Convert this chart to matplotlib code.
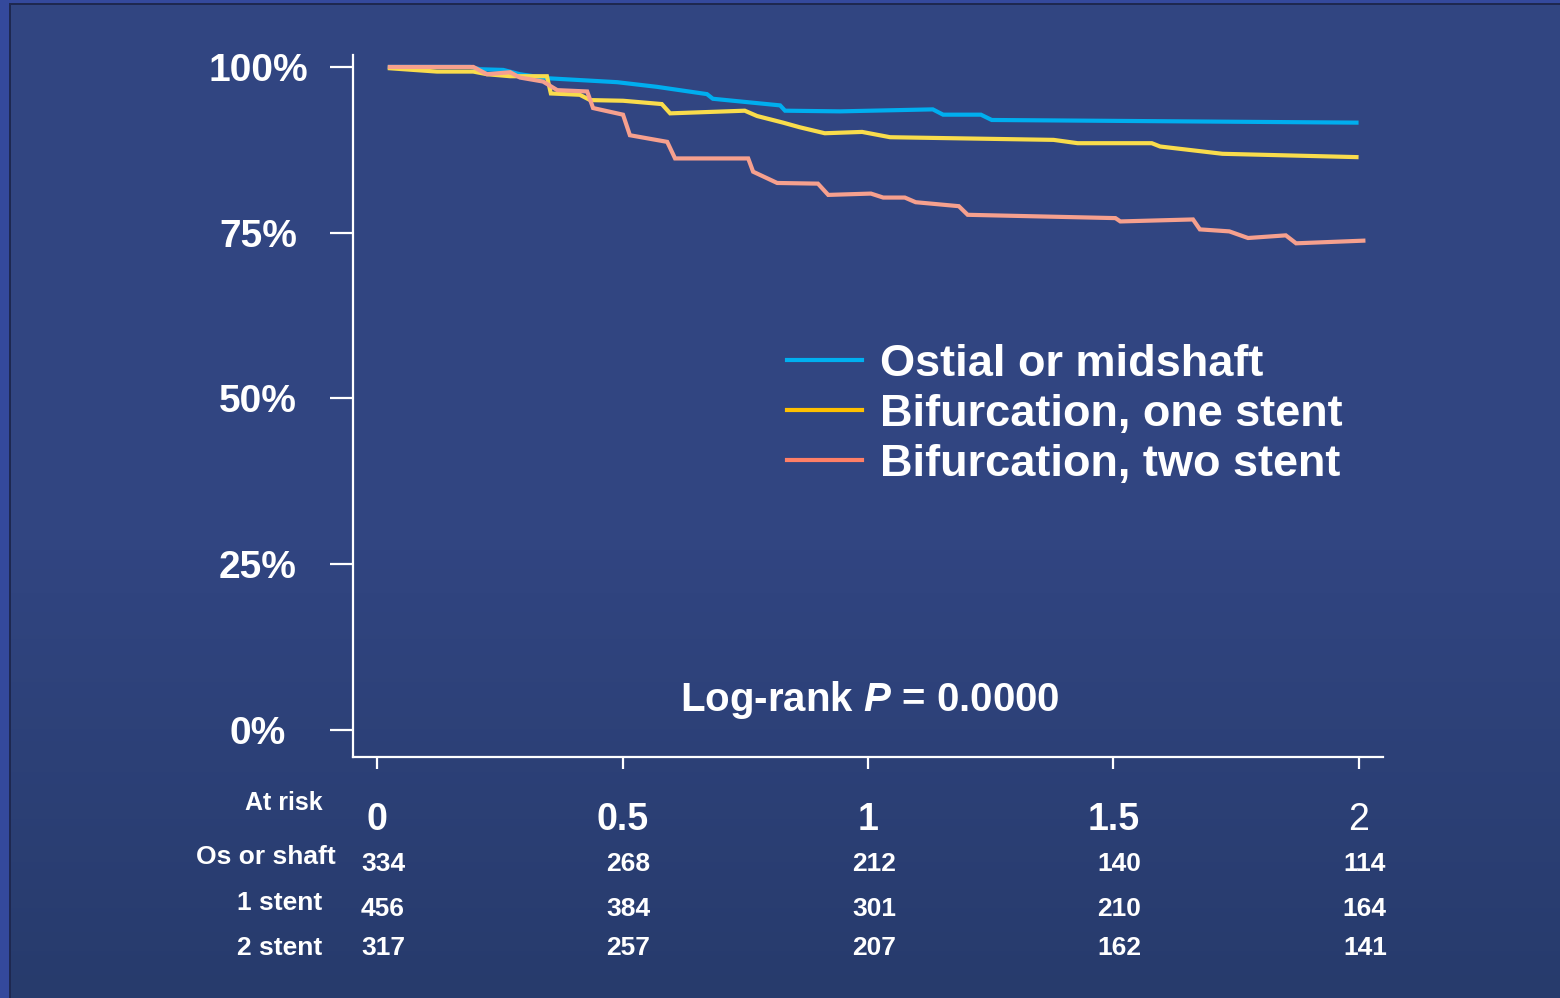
#!/usr/bin/env python3
"""Kaplan-Meier style curves by lesion location, with at-risk table."""

import matplotlib as mpl

mpl.use("Agg")

import matplotlib.pyplot as plt
import numpy as np
from matplotlib import font_manager
from matplotlib.lines import Line2D
from matplotlib.patches import Rectangle
from matplotlib.transforms import blended_transform_factory

# ---- data ----------------------------------------------------------------
years_ostial = [0.026, 0.19, 0.21, 0.257, 0.291, 0.346, 0.489, 0.57, 0.672, 0.684,
                0.821, 0.831, 0.943, 1.132, 1.153, 1.230, 1.252, 1.995]
surv_ostial = [100, 100, 99.65, 99.55, 98.9, 98.3, 97.7, 97.0, 95.9, 95.2,
               94.2, 93.4, 93.3, 93.6, 92.8, 92.8, 92.0, 91.6]

years_one = [0.026, 0.122, 0.196, 0.224, 0.271, 0.346, 0.354, 0.413, 0.434, 0.501,
             0.580, 0.597, 0.749, 0.774, 0.827, 0.861, 0.912, 0.988, 1.045, 1.378,
             1.427, 1.578, 1.595, 1.722, 1.995]
surv_one = [99.8, 99.3, 99.3, 98.9, 98.6, 98.6, 96.0, 95.8, 95.0, 94.9,
            94.4, 93.0, 93.4, 92.6, 91.6, 90.9, 90.0, 90.2, 89.4, 89.0,
            88.5, 88.5, 88.0, 86.9, 86.4]

years_two = [0.026, 0.196, 0.224, 0.271, 0.291, 0.338, 0.367, 0.428, 0.440, 0.501,
             0.515, 0.591, 0.607, 0.756, 0.766, 0.815, 0.898, 0.919, 1.006, 1.031,
             1.075, 1.097, 1.185, 1.203, 1.504, 1.514, 1.662, 1.676, 1.736, 1.774,
             1.851, 1.872, 2.009]
surv_two = [100, 100, 98.9, 99.2, 98.4, 97.8, 96.5, 96.3, 93.8, 92.8,
            89.7, 88.7, 86.2, 86.2, 84.2, 82.5, 82.4, 80.7, 80.9, 80.3,
            80.3, 79.6, 79.0, 77.7, 77.2, 76.7, 77.0, 75.5, 75.2, 74.2,
            74.6, 73.4, 73.8]

series_labels = ["Ostial or midshaft", "Bifurcation, one stent", "Bifurcation, two stent"]

x_ticks = [0, 0.5, 1, 1.5, 2]
x_tick_labels = ["0", "0.5", "1", "1.5", "2"]
y_ticks = [0, 25, 50, 75, 100]
y_tick_labels = ["0%", "25%", "50%", "75%", "100%"]

risk_rows = ["Os or shaft", "1 stent", "2 stent"]
risk_ostial = [334, 268, 212, 140, 114]
risk_one = [456, 384, 301, 210, 164]
risk_two = [317, 257, 207, 162, 141]

p_text = "0.0000"

# ---- styling -------------------------------------------------------------
W, H = 1560, 998
curve_colors = ["#00aeef", "#f9dc4c", "#f6a08e"]
legend_colors = ["#00b0f0", "#ffc000", "#ff7f66"]

installed = {f.name for f in font_manager.fontManager.ttflist}
BOLD = "Liberation Sans" if "Liberation Sans" in installed else "DejaVu Sans"
NARROW = "Liberation Sans Narrow" if "Liberation Sans Narrow" in installed else BOLD

plt.rcParams["font.family"] = [BOLD, "DejaVu Sans"]
plt.rcParams["mathtext.fontset"] = "custom"
plt.rcParams["mathtext.it"] = f"{BOLD}:bold:italic"
plt.rcParams["mathtext.rm"] = f"{BOLD}:bold"


def fx(px):
    return px / W


def fy(py):
    return 1 - py / H


fig = plt.figure(figsize=(W / 100, H / 100), dpi=100)

# background: slide-like gradient with border strips
bg = fig.add_axes([0, 0, 1, 1], zorder=-10)
bg.set_axis_off()
top = np.array([0x31, 0x45, 0x81]) / 255
bottom = np.array([0x27, 0x3b, 0x6c]) / 255
ramp = np.linspace(0, 1, 256)[:, None, None]
grad = top + (bottom - top) * np.clip((ramp - 0.55) / 0.45, 0, 1)
bg.imshow(np.repeat(grad, 2, axis=1), aspect="auto", extent=[0, 1, 0, 1])
bg.set_xlim(0, 1)
bg.set_ylim(0, 1)
bg.add_patch(Rectangle((0, fy(3)), 1, 3 / H, color="#34499c", lw=0))
bg.add_patch(Rectangle((0, 0), fx(9), 1, color="#34499c", lw=0))
bg.add_patch(Rectangle((fx(9), fy(5)), 1, 2 / H, color="#1e2850", lw=0))
bg.add_patch(Rectangle((fx(9), 0), 2 / W, fy(3), color="#1e2850", lw=0))

ax = fig.add_axes([fx(353), fy(757), fx(1383) - fx(353), fy(55) - fy(757)])
ax.patch.set_alpha(0)

for t, v, c in zip([years_ostial, years_one, years_two],
                   [surv_ostial, surv_one, surv_two], curve_colors):
    ax.plot(t, v, color=c, lw=3.0, solid_joinstyle="miter")

ax.set_xlim(-0.049, 2.049)
ax.set_ylim(-4.07, 101.8)

for side in ("top", "right"):
    ax.spines[side].set_visible(False)
for side in ("left", "bottom"):
    ax.spines[side].set_color("white")
    ax.spines[side].set_linewidth(1.6)

ax.set_yticks(y_ticks)
ax.set_yticklabels(y_tick_labels, fontsize=28, fontweight="bold", color="white",
                   ha="center", family=BOLD)
ax.tick_params(axis="y", direction="out", length=16.5, width=1.6, color="white", pad=52)

ax.set_xticks(x_ticks)
ax.set_xticklabels(x_tick_labels, fontsize=27, fontweight="bold", color="white",
                   family=NARROW)
ax.xaxis.get_ticklabels()[-1].set_fontweight("normal")
ax.xaxis.get_ticklabels()[-1].set_family(BOLD)
ax.tick_params(axis="x", direction="out", length=8.5, width=1.6, color="white", pad=24)

# legend (handle colours are brighter than the curves in the original)
handles = [Line2D([], [], color=c, lw=3.0) for c in legend_colors]
ax.legend(handles, series_labels, loc="upper left",
          bbox_to_anchor=(fx(787), fy(344)), bbox_transform=fig.transFigure,
          frameon=False, handlelength=1.66, handletextpad=0.4,
          labelspacing=0.2, borderpad=0, borderaxespad=0,
          prop={"family": BOLD, "weight": "bold", "size": 32.5},
          labelcolor="white")

ax.text(fx(870), fy(700), f"Log-rank $P$ = {p_text}", transform=fig.transFigure,
        ha="center", va="center", fontsize=29, fontweight="bold", color="white")

# at-risk table
fig.text(fx(323), fy(803), "At risk", ha="right", va="center", fontsize=18,
         fontweight="bold", color="white", family=NARROW)
label_right = [336, 322, 322]
row_y = [864, 909, 948]
label_y = [857, 903, 948]
tr = blended_transform_factory(ax.transData, fig.transFigure)
for name, counts, ry, ly, lr in zip(risk_rows, [risk_ostial, risk_one, risk_two],
                                    row_y, label_y, label_right):
    fig.text(fx(lr), fy(ly), name, ha="right", va="center", fontsize=19,
             fontweight="bold", color="white", family=NARROW)
    for t, n in zip(x_ticks, counts):
        ax.text(t + 0.012, fy(ry), str(n), transform=tr, ha="center", va="center",
                fontsize=19, fontweight="bold", color="white", family=NARROW)

fig.savefig("out.png", dpi=100, facecolor=fig.get_facecolor())
